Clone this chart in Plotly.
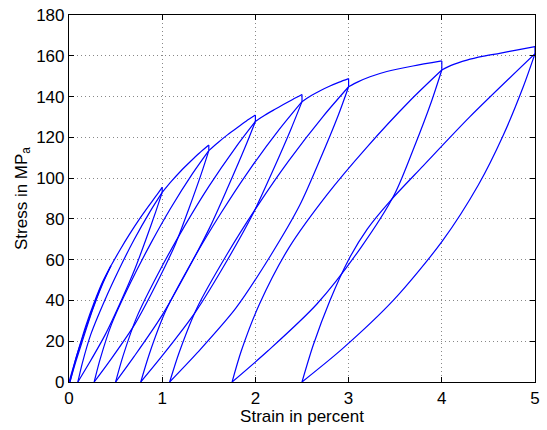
import plotly.graph_objects as go

# loading envelope pieces (strain in %, stress in MPa)
env0_x = [0, 0.09, 0.18, 0.27, 0.36, 0.45]
env0_y = [0, 14, 27.5, 39, 49, 57]
env1_x = [0.45, 0.55, 0.65, 0.75, 0.85, 0.93, 1.0]
env1_y = [57, 65, 72.5, 79.5, 86, 91, 95.5]
env2_x = [1.0, 1.1, 1.2, 1.3, 1.4, 1.5]
env2_y = [93, 98.5, 103.5, 108, 112.3, 116.2]
env3_x = [1.5, 1.6, 1.7, 1.8, 1.9, 2.0]
env3_y = [113.5, 117.5, 121.2, 124.6, 127.9, 130.9]
env4_x = [2.0, 2.1, 2.2, 2.3, 2.4, 2.5]
env4_y = [127.8, 130.8, 133.5, 136.1, 138.6, 141.0]
env5_x = [2.5, 2.6, 2.7, 2.8, 2.9, 3.0]
env5_y = [137.5, 140.5, 143.0, 145.2, 147.1, 148.8]
env6_x = [3.0, 3.1, 3.23, 3.41, 3.69, 4.0]
env6_y = [144.8, 147.2, 149.7, 152.3, 155.0, 157.5]
env7_x = [4.0, 4.1, 4.27, 4.45, 4.62, 4.8, 5.0]
env7_y = [153, 155.3, 157.9, 159.8, 161.2, 162.8, 164.5]

# peaks and the short drop at each peak
peak_strain = [1.0, 1.5, 2.0, 2.5, 3.0, 4.0, 5.0]
peak_stress = [95.5, 116.2, 130.9, 141.0, 148.8, 157.5, 164.5]
drop_stress = [93, 113.5, 127.8, 137.5, 144.8, 153, 161]

# unloading branches
un0_x = [0.45, 0.35, 0.25, 0.15, 0.07, 0.01]
un0_y = [57, 47, 35, 21, 9.5, 0]
un1_x = [1.0, 0.932, 0.824, 0.710, 0.561, 0.389, 0.217, 0.095]
un1_y = [93, 83.7, 69.75, 55.8, 40.0, 23.25, 9.3, 0]
un2_x = [1.5, 1.420, 1.287, 1.146, 0.945, 0.707, 0.453, 0.27]
un2_y = [113.5, 102.2, 85.1, 68.1, 48.8, 28.4, 11.35, 0]
un3_x = [2.0, 1.888, 1.708, 1.52, 1.273, 0.988, 0.703, 0.5]
un3_y = [127.8, 115.0, 95.85, 76.7, 54.95, 31.95, 12.8, 0]
un4_x = [2.5, 2.379, 2.182, 1.974, 1.690, 1.358, 1.016, 0.77]
un4_y = [137.5, 123.75, 103.1, 82.5, 59.1, 34.4, 13.75, 0]
un5_x = [3.0, 2.885, 2.689, 2.478, 2.167, 1.790, 1.380, 1.08]
un5_y = [144.8, 130.3, 108.6, 86.9, 62.3, 36.2, 14.5, 0]
un6_x = [4.0, 3.89, 3.70, 3.49, 3.13, 2.66, 2.135, 1.75]
un6_y = [153, 137.7, 114.75, 91.8, 65.8, 38.25, 15.3, 0]
un7_x = [5.0, 4.875, 4.657, 4.392, 4.007, 3.484, 2.929, 2.5]
un7_y = [161, 144.9, 120.75, 96.6, 69.2, 40.25, 16.1, 0]

# reloading branches
re0_x = [0.01, 0.08, 0.17, 0.27, 0.36, 0.45]
re0_y = [0, 12.5, 25, 38, 48.5, 57]
re1_x = [0.095, 0.143, 0.233, 0.383, 0.543, 0.698, 0.871, 1.0]
re1_y = [0, 9.3, 23.25, 40.0, 55.8, 69.75, 83.7, 93]
re2_x = [0.27, 0.335, 0.457, 0.661, 0.879, 1.089, 1.325, 1.5]
re2_y = [0, 11.35, 28.4, 48.8, 68.1, 85.1, 102.2, 113.5]
re3_x = [0.5, 0.580, 0.728, 0.977, 1.243, 1.499, 1.787, 2.0]
re3_y = [0, 12.8, 31.95, 54.95, 76.7, 95.85, 115.0, 127.8]
re4_x = [0.77, 0.862, 1.033, 1.320, 1.626, 1.922, 2.254, 2.5]
re4_y = [0, 13.75, 34.4, 59.1, 82.5, 103.1, 123.75, 137.5]
re5_x = [1.08, 1.182, 1.372, 1.691, 2.030, 2.359, 2.727, 3.0]
re5_y = [0, 14.5, 36.2, 62.3, 86.9, 108.6, 130.3, 144.8]
re6_x = [1.75, 1.849, 2.044, 2.359, 2.767, 3.188, 3.653, 4.0]
re6_y = [0, 15.3, 38.25, 65.8, 91.8, 114.75, 137.7, 153]
re7_x = [2.5, 2.62, 2.8, 3.0, 3.2, 3.45, 3.8, 4.3, 5.0]
re7_y = [0, 18, 40, 60, 75, 89, 106, 130, 161]

x_ticks = [0, 1, 2, 3, 4, 5]
y_ticks = [0, 20, 40, 60, 80, 100, 120, 140, 160, 180]

segments = [
    (env0_x, env0_y), (env1_x, env1_y), (env2_x, env2_y), (env3_x, env3_y),
    (env4_x, env4_y), (env5_x, env5_y), (env6_x, env6_y), (env7_x, env7_y),
    (un0_x, un0_y), (un1_x, un1_y), (un2_x, un2_y), (un3_x, un3_y),
    (un4_x, un4_y), (un5_x, un5_y), (un6_x, un6_y), (un7_x, un7_y),
    (re0_x, re0_y), (re1_x, re1_y), (re2_x, re2_y), (re3_x, re3_y),
    (re4_x, re4_y), (re5_x, re5_y), (re6_x, re6_y), (re7_x, re7_y),
]

xs = []
ys = []
for sx, sy in segments:
    xs += list(sx) + [None]
    ys += list(sy) + [None]

# vertical drop at every peak
dx = []
dy = []
for e, s1, s2 in zip(peak_strain, peak_stress, drop_stress):
    dx += [e, e, None]
    dy += [s1, s2, None]

fig = go.Figure()
fig.add_trace(go.Scatter(x=xs, y=ys, mode='lines', line_shape='spline',
                         line=dict(color='#0000ff', width=1.2, smoothing=0.8),
                         connectgaps=False, showlegend=False, hoverinfo='skip'))
fig.add_trace(go.Scatter(x=dx, y=dy, mode='lines',
                         line=dict(color='#0000ff', width=1.2),
                         connectgaps=False, showlegend=False, hoverinfo='skip'))

axis_style = dict(showline=True, linecolor='black', linewidth=1.2, mirror='ticks',
                  ticks='inside', ticklen=5, tickwidth=1, tickcolor='black',
                  showgrid=True, gridcolor='#888888', griddash='1px,3px', gridwidth=1,
                  zeroline=False, automargin=False,
                  tickfont=dict(size=17, color='black'))

fig.update_xaxes(range=[0, 5], tickvals=x_ticks,
                 title=dict(text='Strain in percent', font=dict(size=17, color='black'), standoff=2),
                 **axis_style)
fig.update_yaxes(range=[0, 180], tickvals=y_ticks,
                 title=dict(text='Stress in MP<sub>a</sub>', font=dict(size=17, color='black'), standoff=4),
                 **axis_style)

fig.update_layout(width=547, height=430, plot_bgcolor='white', paper_bgcolor='white',
                  font=dict(family='Liberation Sans, Arial, sans-serif', color='black'),
                  margin=dict(l=69, r=12, t=15, b=48))

# page body has a default 8px margin, drop it so the figure sits at the corner
fig.write_html("out.html", config={'displayModeBar': False},
               post_script="document.body.style.margin='0';")
